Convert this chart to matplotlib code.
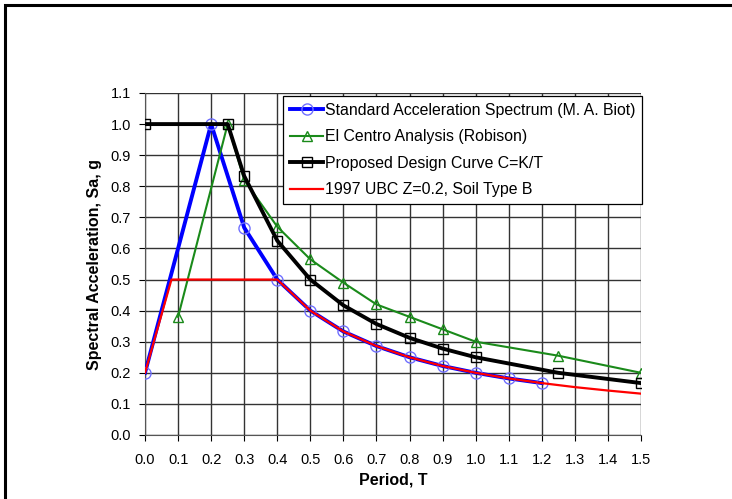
import matplotlib
matplotlib.use('Agg')
import matplotlib.pyplot as plt
from matplotlib.patches import Rectangle

matplotlib.rc('font', family=['Liberation Sans', 'DejaVu Sans'])

# Standard Acceleration Spectrum (M. A. Biot)
biot_T = [0.0, 0.2, 0.3, 0.4, 0.5, 0.6, 0.7, 0.8, 0.9, 1.0, 1.1, 1.2]
biot_sa = [0.2, 1.0, 0.667, 0.5, 0.4, 0.333, 0.286, 0.25, 0.222, 0.2, 0.182, 0.167]

# El Centro Analysis (Robison)
elc_T = [0.1, 0.25, 0.3, 0.4, 0.5, 0.6, 0.7, 0.8, 0.9, 1.0, 1.25, 1.5]
elc_sa = [0.38, 1.0, 0.82, 0.67, 0.565, 0.49, 0.42, 0.38, 0.34, 0.30, 0.255, 0.20]

# Proposed Design Curve C=K/T
prop_T = [0.0, 0.25, 0.3, 0.4, 0.5, 0.6, 0.7, 0.8, 0.9, 1.0, 1.25, 1.5]
prop_sa = [1.0, 1.0, 0.833, 0.625, 0.5, 0.417, 0.357, 0.3125, 0.278, 0.25, 0.2, 0.167]

# 1997 UBC Z=0.2, Soil Type B
ubc_T = [0.0, 0.08, 0.4, 0.5, 0.6, 0.7, 0.8, 0.9, 1.0, 1.1, 1.2, 1.3, 1.4, 1.5]
ubc_sa = [0.2, 0.5, 0.5, 0.4, 0.333, 0.286, 0.25, 0.222, 0.2, 0.182, 0.167, 0.154, 0.143, 0.133]

fig = plt.figure(figsize=(7.32, 4.99), dpi=100)
ax = fig.add_axes([145/732, 1 - 435/499, 496/732, 342/499])

ax.plot(biot_T, biot_sa, color='#0000ff', lw=2.8, marker='o', ms=8,
        mfc='none', mec='#7070ff', mew=1.0,
        label='Standard Acceleration Spectrum (M. A. Biot)', zorder=3)
ax.plot(elc_T, elc_sa, color='#1a8a1a', lw=1.5, marker='^', ms=7,
        mfc='none', mec='#1a8a1a', mew=1.0,
        label='El Centro Analysis (Robison)', zorder=4)
ax.plot(prop_T, prop_sa, color='black', lw=2.8, marker='s', ms=7,
        mfc='none', mec='black', mew=1.0,
        label='Proposed Design Curve C=K/T', zorder=5)
ax.plot(ubc_T, ubc_sa, color='#ff0000', lw=1.6,
        label='1997 UBC Z=0.2, Soil Type B', zorder=6)

ax.set_xlim(0, 1.5)
ax.set_ylim(0, 1.1)
ax.set_xticks([i / 10 for i in range(16)])
ax.set_yticks([i / 10 for i in range(12)])
ax.xaxis.set_major_formatter(matplotlib.ticker.FormatStrFormatter('%.1f'))
ax.yaxis.set_major_formatter(matplotlib.ticker.FormatStrFormatter('%.1f'))
ax.tick_params(axis='both', labelsize=10.5, colors='black', length=4, width=0.8,
               direction='out')
ax.tick_params(axis='x', pad=9)
ax.tick_params(axis='y', pad=6)
ax.grid(True, color='#333333', lw=1.0)
ax.set_axisbelow(True)

for side in ['top', 'right']:
    ax.spines[side].set_visible(False)
for side in ['left', 'bottom']:
    ax.spines[side].set_color('#555555')

ax.set_xlabel('Period, T', fontsize=11.5, fontweight='bold', labelpad=4)
ax.set_ylabel('Spectral Acceleration, Sa, g', fontsize=11.5, fontweight='bold', labelpad=6)

leg = ax.legend(loc='upper right', bbox_to_anchor=(1.003, 0.992), fontsize=11.4,
                frameon=True, fancybox=False, edgecolor='black', framealpha=1,
                handlelength=2.1, handletextpad=0.1, borderaxespad=0,
                labelspacing=0.72, borderpad=0.45)
leg.get_frame().set_linewidth(0.9)

fig.patches.append(Rectangle((5/732, -0.1), 1.2, 1 - 5/499 + 0.1,
                             transform=fig.transFigure, fill=False,
                             edgecolor='black', lw=2.2))

plt.savefig('out.png', dpi=100)
plt.close()
